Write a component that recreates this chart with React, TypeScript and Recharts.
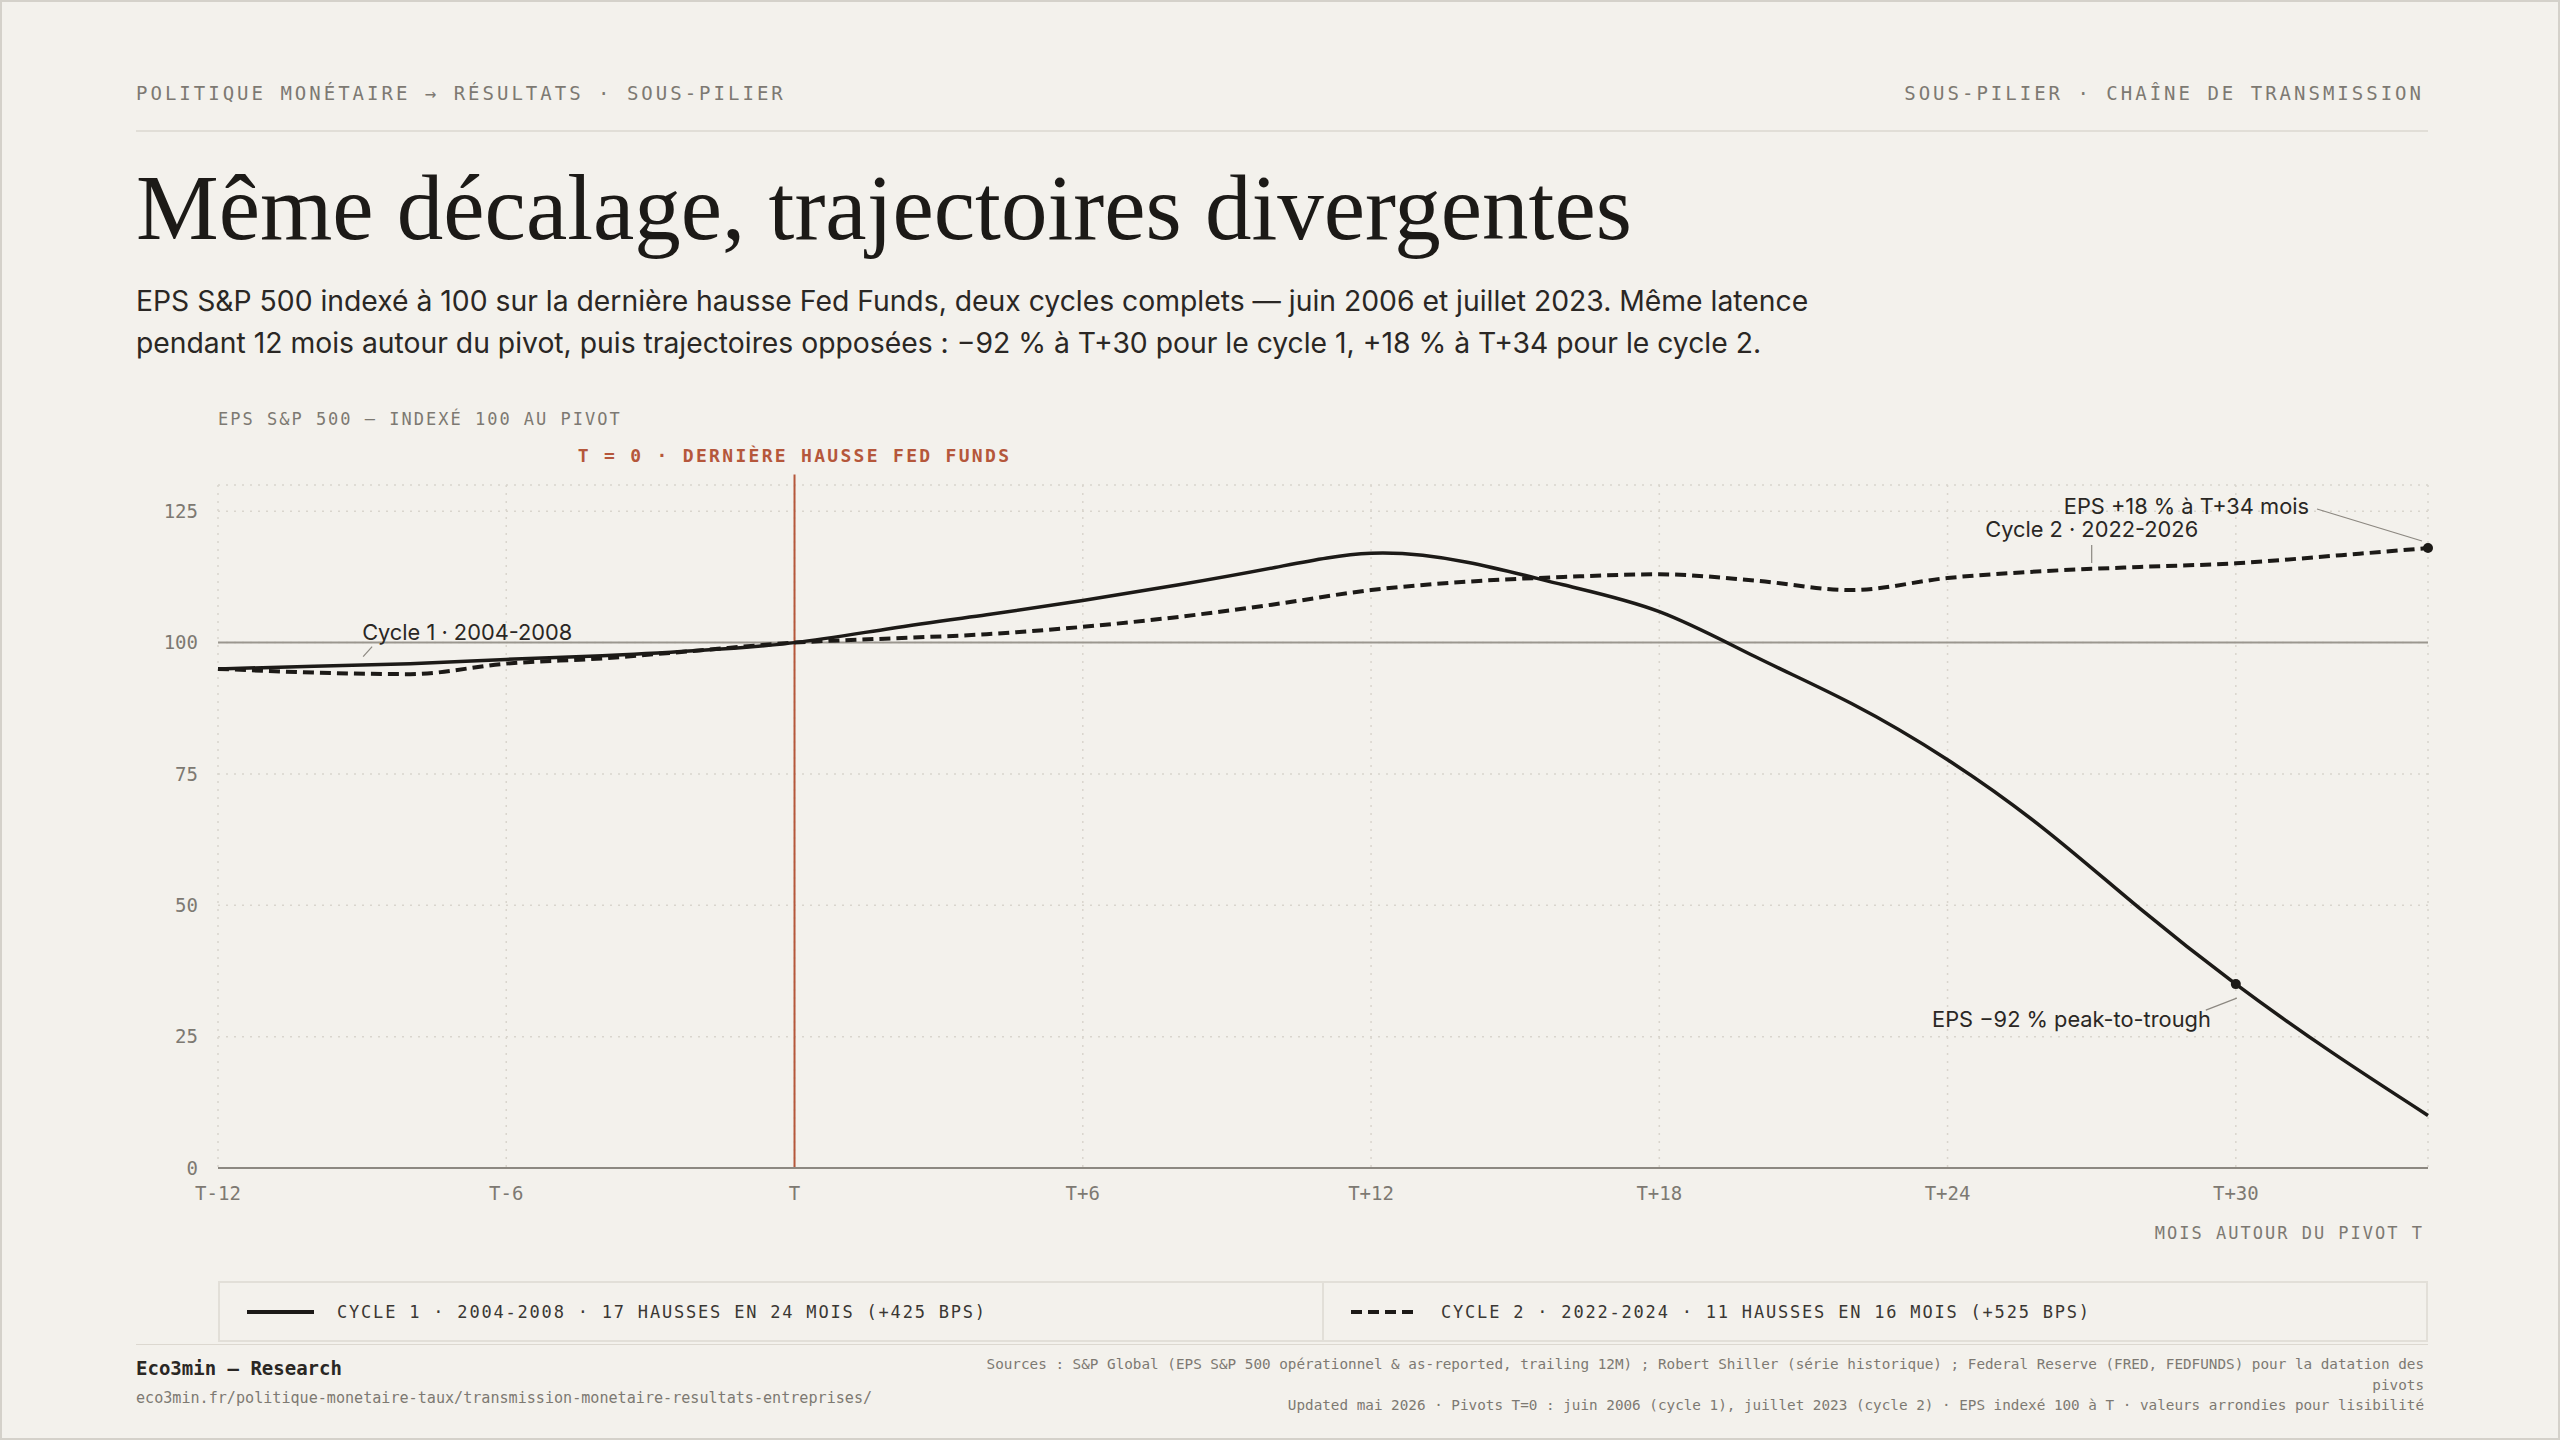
import React from "react";
import {
  LineChart,
  Line,
  XAxis,
  YAxis,
  CartesianGrid,
  ReferenceLine,
  ReferenceDot,
} from "recharts";

// months around the pivot (T = last Fed Funds hike)
const months = [-12, -10, -8, -6, -4, -2, 0, 2, 4, 6, 8, 10, 12, 14, 16, 18, 20, 22, 24, 26, 28, 30, 32, 34];
// EPS S&P 500 indexed to 100 at T
const cycle1 = [95, 95.5, 96, 96.8, 97.5, 98.5, 100, 102.7, 105.3, 108, 111, 114.3, 117, 115.3, 111, 105.9, 97.3, 88.4, 77.7, 64.6, 49.4, 35, 22, 10];
const cycle2 = [95, 94.3, 94, 96, 97, 98.5, 100, 100.8, 101.6, 103, 104.9, 107.3, 110, 111.6, 112.5, 113, 111.8, 110, 112.3, 113.6, 114.4, 115.1, 116.5, 118];

const xTicks = [-12, -6, 0, 6, 12, 18, 24, 30];
const xTickLabels = ["T-12", "T-6", "T", "T+6", "T+12", "T+18", "T+24", "T+30"];
const yTicks = [0, 25, 50, 75, 100, 125];

const legendLabels = [
  "CYCLE 1 · 2004-2008 · 17 HAUSSES EN 24 MOIS (+425 BPS)",
  "CYCLE 2 · 2022-2024 · 11 HAUSSES EN 16 MOIS (+525 BPS)",
];

const data = months.map((m, i) => ({ m, c1: cycle1[i], c2: cycle2[i] }));

const MONO = "'DejaVu Sans Mono', 'Liberation Mono', monospace";
const SANS = "Inter, 'Noto Sans', sans-serif";
const SERIF = "'Liberation Serif', 'DejaVu Serif', serif";
const INK = "#1c1a17";
const MUTED = "#7d7972";
const RUST = "#b5573b";
const BG = "#f3f1ec";
const NOTE = 21.8;

const tickLabel = (v: number) => xTickLabels[xTicks.indexOf(v)] ?? "";

const App: React.FC = () => {
  return (
    <div
      style={{
        position: "absolute",
        left: 0,
        top: 0,
        width: 2560,
        height: 1440,
        boxSizing: "border-box",
        border: "2px solid #d4d1ca",
        background: BG,
        overflow: "hidden",
        color: INK,
      }}
    >
      {/* header */}
      <div style={{ position: "absolute", left: 134, top: 80, fontFamily: MONO, fontSize: 19, letterSpacing: 3, color: MUTED, lineHeight: "22px" }}>
        POLITIQUE MONÉTAIRE → RÉSULTATS · SOUS-PILIER
      </div>
      <div style={{ position: "absolute", right: 134, top: 80, fontFamily: MONO, fontSize: 19, letterSpacing: 3, color: MUTED, lineHeight: "22px" }}>
        SOUS-PILIER · CHAÎNE DE TRANSMISSION
      </div>
      <div style={{ position: "absolute", left: 134, top: 128, width: 2292, height: 2, background: "#e1ded7" }} />

      {/* title */}
      <div style={{ position: "absolute", left: 134, top: 159, fontFamily: SERIF, fontSize: 93, lineHeight: "93px", color: INK, whiteSpace: "nowrap" }}>
        Même décalage, trajectoires divergentes
      </div>
      <div style={{ position: "absolute", left: 134, top: 278, fontFamily: SANS, fontSize: 28.3, lineHeight: "42px", color: "#2a2724", whiteSpace: "nowrap" }}>
        EPS S&amp;P 500 indexé à 100 sur la dernière hausse Fed Funds, deux cycles complets — juin 2006 et juillet 2023. Même latence
        <br />
        pendant 12 mois autour du pivot, puis trajectoires opposées : −92 % à T+30 pour le cycle 1, +18 % à T+34 pour le cycle 2.
      </div>

      {/* y axis caption */}
      <div style={{ position: "absolute", left: 216, top: 407, fontFamily: MONO, fontSize: 17, letterSpacing: 2, color: MUTED, lineHeight: "20px" }}>
        EPS S&amp;P 500 — INDEXÉ 100 AU PIVOT
      </div>

      {/* chart */}
      <div style={{ position: "absolute", left: 0, top: 440 }}>
        <LineChart width={2560} height={766} data={data} margin={{ top: 43, right: 134, left: 136, bottom: 0 }}>
          <CartesianGrid stroke="#d9d5cd" strokeDasharray="2 6" strokeWidth={1.5} />
          <XAxis
            dataKey="m"
            type="number"
            domain={[-12, 34]}
            ticks={xTicks}
            tickFormatter={tickLabel}
            axisLine={{ stroke: "#8c8881", strokeWidth: 2 }}
            tickLine={false}
            tickSize={6}
            tickMargin={13}
            height={40}
            tick={{ fontFamily: MONO, fontSize: 19, fill: MUTED }}
          />
          <YAxis
            type="number"
            domain={[0, 130]}
            ticks={yTicks}
            width={80}
            axisLine={false}
            tickLine={false}
            tickSize={8}
            tickMargin={12}
            tick={{ fontFamily: MONO, fontSize: 19, fill: MUTED }}
          />
          <ReferenceLine y={100} stroke="#9b978f" strokeWidth={2} />
          <ReferenceLine
            segment={[{ x: 0, y: 0 }, { x: 0, y: 132 }]}
            ifOverflow="visible"
            stroke={RUST}
            strokeWidth={2}
          />
          <Line type="monotone" dataKey="c2" stroke={INK} strokeWidth={4} strokeDasharray="11 6" dot={false} isAnimationActive={false} />
          <Line type="natural" dataKey="c1" stroke={INK} strokeWidth={3.5} dot={false} isAnimationActive={false} />

          {/* T = 0 label */}
          <ReferenceDot
            x={0}
            y={130}
            r={0}
            shape={(p: any) => (
              <text x={p.cx} y={p.cy - 23} textAnchor="middle" fontFamily={MONO} fontSize={18} fontWeight={700} letterSpacing={2.3} fill={RUST}>
                T = 0 · DERNIÈRE HAUSSE FED FUNDS
              </text>
            )}
          />
          {/* Cycle 1 label */}
          <ReferenceDot
            x={-9}
            y={95.8}
            r={0}
            shape={(p: any) => (
              <g>
                <line x1={p.cx + 1} y1={p.cy - 8} x2={p.cx + 10} y2={p.cy - 18} stroke="#8c8881" strokeWidth={1.2} />
                <text x={p.cx} y={p.cy - 25} fontFamily={SANS} fontSize={NOTE} fill="#2a2724">
                  Cycle 1 · 2004-2008
                </text>
              </g>
            )}
          />
          {/* Cycle 2 label */}
          <ReferenceDot
            x={27}
            y={114}
            r={0}
            shape={(p: any) => (
              <g>
                <line x1={p.cx} y1={p.cy - 24} x2={p.cx} y2={p.cy - 6} stroke="#8c8881" strokeWidth={1.2} />
                <text x={p.cx} y={p.cy - 32} textAnchor="middle" fontFamily={SANS} fontSize={NOTE} fill="#2a2724">
                  Cycle 2 · 2022-2026
                </text>
              </g>
            )}
          />
          {/* +18% annotation */}
          <ReferenceDot
            x={34}
            y={118}
            r={0}
            shape={(p: any) => (
              <g>
                <circle cx={p.cx} cy={p.cy} r={5} fill={INK} />
                <line x1={p.cx - 111} y1={p.cy - 39} x2={p.cx - 6} y2={p.cy - 7} stroke="#8c8881" strokeWidth={1.2} />
                <text x={p.cx - 119} y={p.cy - 34} textAnchor="end" fontFamily={SANS} fontSize={NOTE} fill="#2a2724">
                  EPS +18 % à T+34 mois
                </text>
              </g>
            )}
          />
          {/* -92% annotation */}
          <ReferenceDot
            x={30}
            y={35}
            r={0}
            shape={(p: any) => (
              <g>
                <circle cx={p.cx} cy={p.cy} r={5} fill={INK} />
                <line x1={p.cx - 30} y1={p.cy + 26} x2={p.cx + 1} y2={p.cy + 14} stroke="#8c8881" strokeWidth={1.2} />
                <text x={p.cx - 25} y={p.cy + 43} textAnchor="end" fontFamily={SANS} fontSize={NOTE} fill="#2a2724">
                  EPS −92 % peak-to-trough
                </text>
              </g>
            )}
          />
        </LineChart>
      </div>

      {/* x axis caption */}
      <div style={{ position: "absolute", right: 134, top: 1221, fontFamily: MONO, fontSize: 17, letterSpacing: 2, color: MUTED, lineHeight: "20px" }}>
        MOIS AUTOUR DU PIVOT T
      </div>

      {/* legend */}
      <div style={{ position: "absolute", left: 216, top: 1279, width: 2210, height: 61, display: "flex" }}>
        {legendLabels.map((label, i) => (
          <div
            key={label}
            style={{
              flex: 1,
              boxSizing: "border-box",
              border: "2px solid #e2dfd8",
              marginLeft: i === 0 ? 0 : -2,
              display: "flex",
              alignItems: "center",
              paddingLeft: 27,
            }}
          >
            <svg width={67} height={6} style={{ marginRight: 23 }}>
              <line x1={0} y1={3} x2={67} y2={3} stroke={INK} strokeWidth={4} strokeDasharray={i === 0 ? undefined : "11 6"} />
            </svg>
            <span style={{ fontFamily: MONO, fontSize: 17, letterSpacing: 1.8, color: "#3a3733" }}>{label}</span>
          </div>
        ))}
      </div>

      {/* footer */}
      <div style={{ position: "absolute", left: 134, top: 1342, width: 2292, height: 1, background: "#dcd8d0" }} />
      <div style={{ position: "absolute", left: 134, top: 1355, fontFamily: MONO, fontSize: 19, fontWeight: 700, color: "#2a2724", lineHeight: "22px" }}>
        Eco3min — Research
      </div>
      <div style={{ position: "absolute", left: 134, top: 1387, fontFamily: MONO, fontSize: 15.1, color: MUTED, lineHeight: "18px" }}>
        eco3min.fr/politique-monetaire-taux/transmission-monetaire-resultats-entreprises/
      </div>
      <div
        style={{
          position: "absolute",
          right: 134,
          top: 1352,
          fontFamily: MONO,
          fontSize: 14.3,
          color: MUTED,
          lineHeight: "20.5px",
          textAlign: "right",
          whiteSpace: "nowrap",
        }}
      >
        Sources : S&amp;P Global (EPS S&amp;P 500 opérationnel &amp; as-reported, trailing 12M) ; Robert Shiller (série historique) ; Federal Reserve (FRED, FEDFUNDS) pour la datation des
        <br />
        pivots
        <br />
        Updated mai 2026 · Pivots T=0 : juin 2006 (cycle 1), juillet 2023 (cycle 2) · EPS indexé 100 à T · valeurs arrondies pour lisibilité
      </div>
    </div>
  );
};

export default App;
